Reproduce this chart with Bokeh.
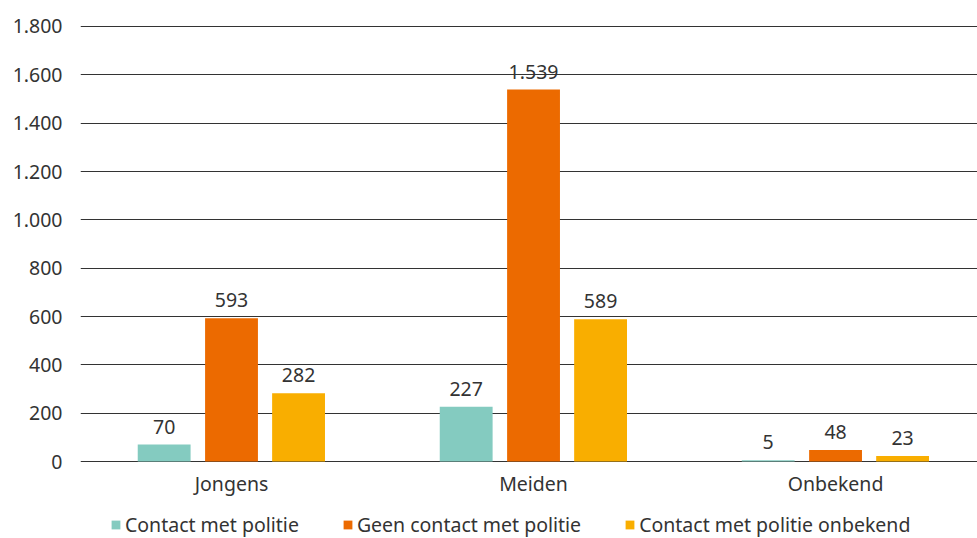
from bokeh.plotting import figure
from bokeh.models import ColumnDataSource, FixedTicker, Legend, LegendItem, Range1d
from bokeh.core.properties import value
from bokeh.embed import file_html
from bokeh.resources import INLINE

categories = ["Jongens", "Meiden", "Onbekend"]
series_names = ["Contact met politie", "Geen contact met politie", "Contact met politie onbekend"]
contact = [70, 227, 5]
geen_contact = [593, 1539, 48]
onbekend = [282, 589, 23]
y_ticks = [0, 200, 400, 600, 800, 1000, 1200, 1400, 1600, 1800]
y_tick_labels = ["0", "200", "400", "600", "800", "1.000", "1.200", "1.400", "1.600", "1.800"]

colors = ["#84CBC0", "#EC6A00", "#F9AE00"]
FONT = "Noto Sans"
FS = "19.5px"
TXT = "#333333"

p = figure(width=977, height=538, output_backend="svg", toolbar_location=None,
           x_range=Range1d(0, 2.97), y_range=Range1d(-318.6, 1833.1),
           min_border_left=80, min_border_right=0, min_border_top=18, min_border_bottom=0)
p.outline_line_color = None
p.background_fill_color = "white"

offsets = [-0.223, 0.0, 0.222]
width = 0.175
renderers = []
for vals, off, col, name in zip([contact, geen_contact, onbekend], offsets, colors, series_names):
    xs = [i + 0.5 + off for i in range(len(categories))]
    src = ColumnDataSource(dict(x=xs, top=vals, lbl=[f"{v:,}".replace(",", ".") for v in vals]))
    r = p.vbar(x="x", top="top", width=width, source=src, fill_color=col, line_color=None)
    p.text(x="x", y="top", text="lbl", source=src, text_align="center", text_baseline="middle",
           y_offset=-18, text_font=value(FONT), text_font_size=FS, text_color=TXT)
    renderers.append((name, r))

# category labels below the zero line
cat_src = ColumnDataSource(dict(x=[i + 0.5 for i in range(len(categories))],
                                y=[0] * len(categories), t=categories))
p.text(x="x", y="y", text="t", source=cat_src, text_align="center", text_baseline="middle",
       y_offset=22, text_font=value(FONT), text_font_size=FS, text_color=TXT)

# y axis
p.yaxis.ticker = FixedTicker(ticks=y_ticks)
p.yaxis.major_label_overrides = {t: l for t, l in zip(y_ticks, y_tick_labels)}
p.yaxis.axis_line_color = None
p.yaxis.major_tick_line_color = None
p.yaxis.minor_tick_line_color = None
p.yaxis.major_label_standoff = 12
p.yaxis.major_label_text_font = FONT
p.yaxis.major_label_text_font_size = FS
p.yaxis.major_label_text_color = TXT

p.xaxis.visible = False
p.xgrid.grid_line_color = None
p.ygrid.grid_line_color = "#333333"
p.ygrid.grid_line_width = 1

legend = Legend(items=[LegendItem(label=n, renderers=[r]) for n, r in renderers],
                orientation="horizontal", location=(30, 0),
                glyph_width=11, glyph_height=11, label_standoff=4, spacing=43,
                label_height=18, label_text_font=FONT, label_text_font_size=FS,
                label_text_color=TXT, label_text_baseline="middle",
                border_line_color=None, background_fill_alpha=0, padding=0, margin=0)
p.add_layout(legend, "center")

open("out.html", "w").write(file_html(p, INLINE))
